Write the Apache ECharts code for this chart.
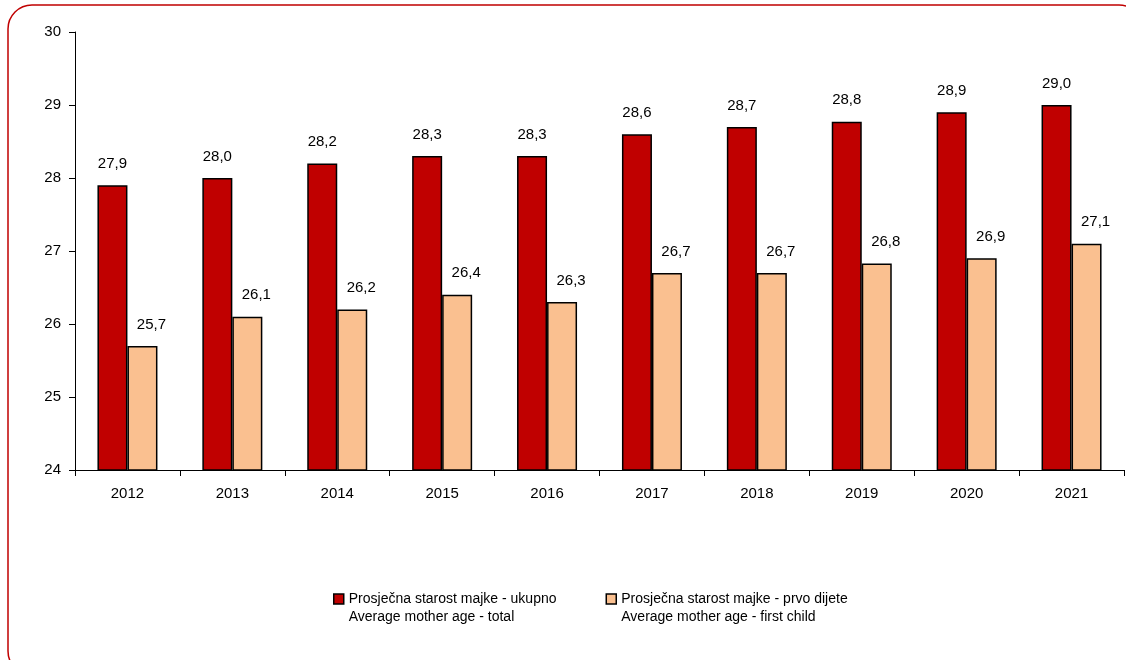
<!DOCTYPE html>
<html><head><meta charset="utf-8">
<script src="https://cdn.jsdelivr.net/npm/echarts@6/dist/echarts.min.js"></script>
<style>html,body{margin:0;padding:0;background:#fff}#c{width:1126px;height:660px}</style>
</head><body><div id="c"></div>
<script>
const categories = ['2012','2013','2014','2015','2016','2017','2018','2019','2020','2021'];
const totalName = 'Prosječna starost majke - ukupno\nAverage mother age - total';
const firstName = 'Prosječna starost majke - prvo dijete\nAverage mother age - first child';
const totalValues = [27.9, 28.0, 28.2, 28.3, 28.3, 28.6, 28.7, 28.77, 28.9, 29.0];
const firstValues = [25.7, 26.1, 26.2, 26.4, 26.3, 26.7, 26.7, 26.83, 26.9, 27.1];
const yTicks = [24, 25, 26, 27, 28, 29, 30];

const font = '"Liberation Sans", Arial, sans-serif';
const fmt = p => p.value.toFixed(1).replace('.', ',');
const chart = echarts.init(document.getElementById('c'));
chart.setOption({
  animation: false,
  textStyle: {fontFamily: font},
  graphic: [{
    type: 'rect', shape: {x: 8, y: 5, width: 1135, height: 670, r: 24},
    style: {fill: 'none', stroke: '#c00000', lineWidth: 1.5}, z: -1
  }],
  grid: {left: 75, right: 2, top: 32, bottom: 190},
  legend: {
    left: 328, top: 567, itemWidth: 10, itemHeight: 10, itemGap: 49,
    icon: 'rect',
    itemStyle: {borderColor: '#000', borderWidth: 1.5},
    formatter: name => '\n' + name,
    textStyle: {fontSize: 14, color: '#000', fontFamily: font, lineHeight: 18},
    data: [totalName, firstName]
  },
  xAxis: {
    type: 'category', data: categories,
    axisLine: {lineStyle: {color: '#000', width: 1}},
    axisTick: {show: true, length: 6, lineStyle: {color: '#000'}},
    axisLabel: {color: '#000', fontSize: 15, margin: 16, fontFamily: font}
  },
  yAxis: {
    type: 'value', min: yTicks[0], max: yTicks[yTicks.length - 1], interval: 1,
    axisLine: {show: true, lineStyle: {color: '#000', width: 1}},
    axisTick: {show: true, length: 6, lineStyle: {color: '#000'}},
    splitLine: {show: false},
    axisLabel: {color: '#000', fontSize: 15, margin: 14, fontFamily: font}
  },
  series: [{
    name: totalName, type: 'bar', data: totalValues, barWidth: 30, barGap: '0%',
    itemStyle: {color: '#c00000', borderColor: '#000', borderWidth: 1.5},
    label: {show: true, position: 'top', distance: 14, color: '#000', fontSize: 15, formatter: fmt, fontFamily: font}
  }, {
    name: firstName, type: 'bar', data: firstValues, barWidth: 30,
    itemStyle: {color: '#fac090', borderColor: '#000', borderWidth: 1.5},
    label: {show: true, position: 'top', distance: 14, offset: [9, 0], color: '#000', fontSize: 15, formatter: fmt, fontFamily: font}
  }]
});
</script></body></html>
